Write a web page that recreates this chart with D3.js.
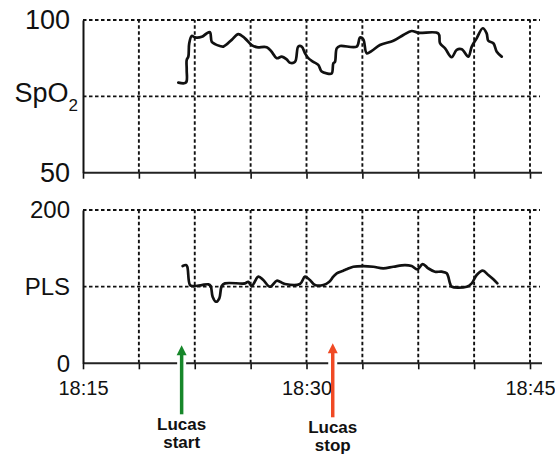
<!DOCTYPE html>
<html>
<head>
<meta charset="utf-8">
<script src="https://cdn.jsdelivr.net/npm/d3@7"></script>
<style>
  body { margin: 0; background: #fff; }
  svg { display: block; font-family: "Liberation Sans", Arial, sans-serif; }
</style>
</head>
<body>
<div id="chart"></div>
<script>
// minutes after 18:15
const spo2Time = [6.40, 6.91, 6.96, 6.96, 7.07, 7.13, 7.30, 7.52, 7.97, 8.30, 8.52, 8.64, 8.86, 9.19, 9.42, 9.98, 10.42, 10.87, 11.32, 11.66,
  12.33, 12.66, 13.00, 13.34, 13.67, 13.89, 14.23, 14.45, 14.68, 14.90, 15.12, 15.46, 15.79, 16.02, 16.36, 16.69, 16.80, 16.91, 17.03, 17.25,
  18.37, 18.59, 18.81, 19.04, 19.38, 19.93, 20.83, 21.50, 22.06, 22.50, 23.85, 23.96, 24.30, 24.74, 25.08, 25.42, 25.86, 26.09, 26.42, 26.83,
  27.09, 27.20, 27.54, 27.77, 28.10];
const spo2Value = [79.5, 79.5, 83.6, 86.9, 88.0, 92.4, 94.8, 94.3, 94.5, 95.6, 96.0, 92.9, 92.1, 91.5, 91.3, 93.5, 95.4, 94.0, 91.8, 91.1,
  91.1, 89.6, 87.5, 88.0, 87.1, 86.0, 86.3, 91.3, 91.3, 89.1, 87.5, 86.3, 85.3, 83.1, 82.5, 82.5, 85.8, 86.3, 90.7, 91.5,
  91.3, 94.3, 93.7, 89.1, 89.9, 91.8, 93.2, 95.1, 96.4, 95.8, 95.6, 92.4, 90.7, 87.8, 90.2, 90.4, 88.0, 91.3, 94.0, 97.3,
  95.6, 93.2, 92.4, 89.6, 88.0];

const plsTime = [6.69, 6.91, 7.00, 7.18, 7.40, 7.97, 8.41, 8.57, 8.70, 8.93, 9.15, 9.31, 9.53, 10.87, 11.09, 11.32, 11.77, 12.10, 12.55, 13.00,
  13.22, 13.56, 14.56, 14.90, 15.23, 15.57, 16.13, 16.53, 16.80, 17.03, 17.47, 17.69, 18.14, 18.81, 19.48, 20.15, 20.83, 21.61, 22.06, 22.44,
  22.80, 23.17, 23.62, 24.07, 24.41, 24.63, 24.74, 25.75, 26.09, 26.42, 26.83, 27.20, 27.54, 27.81];
const plsValue = [126.9, 128.2, 126.0, 102.1, 100.8, 102.1, 103.0, 100.8, 86.9, 80.3, 84.8, 100.8, 104.3, 104.3, 106.4, 100.8, 113.0, 108.6, 99.9, 107.7,
  106.4, 103.4, 103.4, 113.0, 108.6, 102.1, 102.1, 106.4, 113.0, 117.4, 120.8, 122.6, 126.0, 126.9, 126.0, 123.9, 126.0, 128.2, 126.9, 122.6,
  129.5, 123.9, 119.5, 119.5, 117.4, 104.3, 99.9, 99.9, 104.3, 115.2, 120.8, 115.2, 109.6, 104.3];

const gridMinutes = [0, 3.75, 7.5, 11.25, 15, 18.75, 22.5, 26.25, 30];
const timeLabels = { 0: "18:15", 15: "18:30", 30: "18:45" };

const spo2Ticks = [50, 75, 100];
const spo2TickLabels = ["50", "SpO2", "100"];
const plsTicks = [0, 100, 200];
const plsTickLabels = ["0", "PLS", "200"];

const eventTimes = [6.62, 16.76];
const eventLabels = [["Lucas", "start"], ["Lucas", "stop"]];
const eventColors = ["#17872a", "#f04a24"];

const W = 555, H = 455;
const t0 = new Date(2000, 0, 1, 18, 15);
const toDate = m => new Date(t0.getTime() + m * 60000);

const svg = d3.select("#chart").append("svg").attr("width", W).attr("height", H);

const x = d3.scaleTime().domain([toDate(0), toDate(30)]).range([83, 530]);
const xEnd = 542, gridEnd = 540;

const panels = [
  { y: d3.scaleLinear().domain([50, 100]).range([172.7, 20]), ticks: spo2Ticks, labels: spo2TickLabels,
    t: spo2Time, v: spo2Value, font: 27 },
  { y: d3.scaleLinear().domain([0, 200]).range([363.3, 210]), ticks: plsTicks, labels: plsTickLabels,
    t: plsTime, v: plsValue, font: 24 }
];

panels.forEach((p, pi) => {
  const g = svg.append("g");
  const [yBot, yTop] = p.y.range();

  // dashed grid
  g.selectAll(".hgrid").data(p.ticks.slice(1)).join("line")
    .attr("x1", x.range()[0]).attr("x2", gridEnd)
    .attr("y1", d => p.y(d)).attr("y2", d => p.y(d))
    .attr("stroke", "#111").attr("stroke-width", 1.9).attr("stroke-dasharray", "3.5,2.5");
  g.selectAll(".vgrid").data(gridMinutes.slice(1)).join("line")
    .attr("x1", d => x(toDate(d))).attr("x2", d => x(toDate(d)))
    .attr("y1", yBot).attr("y2", yTop)
    .attr("stroke", "#111").attr("stroke-width", 1.9).attr("stroke-dasharray", "3.5,2.5");

  // x axis
  const xAxis = d3.axisBottom(x)
    .tickValues(gridMinutes.map(toDate))
    .tickSizeInner(6).tickSizeOuter(0).tickPadding(12)
    .tickFormat((d, i) => pi === 1 ? (timeLabels[gridMinutes[i]] || "") : "");
  const xg = g.append("g").attr("transform", `translate(0,${yBot})`).call(xAxis);
  xg.select(".domain").remove();
  xg.selectAll(".tick line").attr("stroke", "#111").attr("stroke-width", 1.6);
  xg.selectAll(".tick text").attr("font-size", 20).attr("fill", "#111")
    .attr("font-family", "'Liberation Sans', Arial, sans-serif");
  g.append("line").attr("x1", x.range()[0]).attr("x2", xEnd).attr("y1", yBot).attr("y2", yBot)
    .attr("stroke", "#222").attr("stroke-width", 2);

  // y axis
  const yAxis = d3.axisLeft(p.y).tickValues(p.ticks).tickSize(0).tickPadding(13)
    .tickFormat((d, i) => p.labels[i]);
  const yg = g.append("g").attr("transform", `translate(${x.range()[0]},0)`).call(yAxis);
  yg.select(".domain").attr("stroke", "#111").attr("stroke-width", 2);
  yg.selectAll(".tick text")
    .attr("font-size", p.font).attr("fill", "#111").attr("dy", "0.33em")
    .attr("font-family", "'Liberation Sans', Arial, sans-serif")
    .each(function (d, i) {
      const lab = p.labels[i];
      if (lab === "SpO2") {
        const t = d3.select(this).text(null).attr("x", -5).attr("dy", "0.2em");
        t.append("tspan").text("SpO");
        t.append("tspan").text("2").attr("font-size", 17).attr("dy", 9);
      }
    });

  // trace
  const line = d3.line()
    .x((d, i) => x(toDate(p.t[i])))
    .y(d => p.y(d))
    .curve(d3.curveCatmullRom.alpha(0.5));
  g.append("path").datum(p.v)
    .attr("d", line)
    .attr("fill", "none").attr("stroke", "#111").attr("stroke-width", 2.7)
    .attr("stroke-linejoin", "round").attr("stroke-linecap", "round");
});

// event arrows under the bottom axis
const axisY = panels[1].y(0);
eventTimes.forEach((m, i) => {
  const ax = x(toDate(m));
  const tip = axisY - (i === 0 ? 18 : 20);
  const tail = axisY + (i === 0 ? 51 : 54);
  const g = svg.append("g");
  g.append("line").attr("x1", ax).attr("x2", ax).attr("y1", axisY - 4).attr("y2", axisY + 4)
    .attr("stroke", "#fff").attr("stroke-width", 9);
  g.append("line").attr("x1", ax).attr("x2", ax).attr("y1", tip + 6).attr("y2", tail)
    .attr("stroke", eventColors[i]).attr("stroke-width", 3.5);
  g.append("path")
    .attr("d", `M${ax},${tip} L${ax - 5},${tip + 10} L${ax + 5},${tip + 10} Z`)
    .attr("fill", eventColors[i]);
  const txt = g.append("text").attr("text-anchor", "middle")
    .attr("font-size", 17).attr("font-weight", "bold").attr("fill", "#111");
  eventLabels[i].forEach((s, k) => {
    txt.append("tspan").attr("x", ax).attr("y", tail + 16 + k * 18).text(s);
  });
});
</script>
</body>
</html>
